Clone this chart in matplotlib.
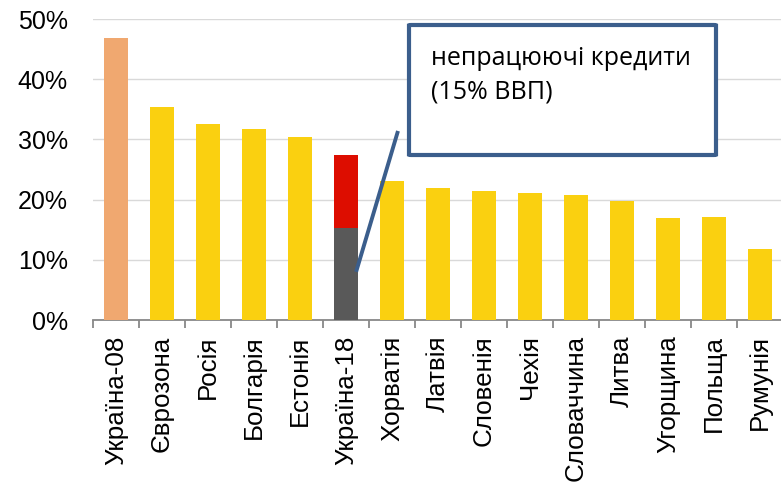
import matplotlib
matplotlib.use("Agg")
import matplotlib.pyplot as plt
from matplotlib.patches import FancyBboxPatch
import numpy as np

categories = ["Україна-08", "Єврозона", "Росія", "Болгарія", "Естонія", "Україна-18",
              "Хорватія", "Латвія", "Словенія", "Чехія", "Словаччина", "Литва",
              "Угорщина", "Польща", "Румунія"]
values = [46.8, 35.3, 32.6, 31.7, 30.4, 15.3, 23.1, 21.9, 21.5, 21.1, 20.7, 19.8, 16.9, 17.1, 11.8]
npl_extra = [0, 0, 0, 0, 0, 12.1, 0, 0, 0, 0, 0, 0, 0, 0, 0]
yticks = [0, 10, 20, 30, 40, 50]
annotation = "непрацюючі кредити\n(15% ВВП)"

plt.rcParams['font.family'] = ['Liberation Sans', 'DejaVu Sans']

fig = plt.figure(figsize=(7.81, 4.86), dpi=100)
ax = fig.add_axes([93/781, 1 - 320/486, (783 - 93)/781, (320 - 19)/486])

x = np.arange(len(categories))
colors = ["#F0A870"] + ["#FAD010"] * 4 + ["#595959"] + ["#FAD010"] * 9
ax.bar(x, values, width=0.52, color=colors, zorder=3)
ax.bar(x, npl_extra, bottom=values, width=0.52, color="#DD0D00", zorder=3)

ax.set_xlim(-0.5, len(categories) - 0.5)
ax.set_ylim(0, 50)
ax.set_yticks(yticks)
ax.set_yticklabels([f"{v}%" for v in yticks], fontsize=18, color="#000000")
ax.yaxis.grid(True, color="#D9D9D9", linewidth=1.0, zorder=0)
ax.tick_params(axis='y', length=0, pad=18)

ax.set_xticks(np.arange(len(categories) + 1) - 0.5, minor=False)
ax.set_xticklabels([])
ax.set_xticks(x, minor=True)
ax.set_xticklabels(categories, minor=True, rotation=90, fontsize=18.7, va='top', ha='center')
ax.tick_params(axis='x', which='major', length=6, color="#888888", width=1.3)
ax.tick_params(axis='x', which='minor', length=0, pad=11)

for s in ["top", "right", "left"]:
    ax.spines[s].set_visible(False)
ax.spines["bottom"].set_color("#888888")
ax.spines["bottom"].set_linewidth(1.3)

# callout line and box
line_col = "#3B5E8C"
ax.plot([5.22, 6.13], [8.0, 31.4], color=line_col, linewidth=2.8, zorder=4,
        solid_capstyle='butt', clip_on=False)
box_x0 = (409 - 93) / 46.0 - 0.5
box_x1 = (716 - 93) / 46.0 - 0.5
rect = FancyBboxPatch((box_x0, (320 - 155) / 6.02), box_x1 - box_x0, (155 - 25) / 6.02,
                      boxstyle="round,pad=0,rounding_size=0.05", facecolor="white", edgecolor=line_col,
                      linewidth=3.0, zorder=5, clip_on=False)
ax.add_patch(rect)
ax.text(box_x0 + 0.47, (320 - 98) / 6.02, annotation, fontsize=18, family=['Open Sans', 'DejaVu Sans'],
        va='baseline', ha='left', zorder=6, linespacing=1.4)

fig.savefig("out.png", dpi=100)
